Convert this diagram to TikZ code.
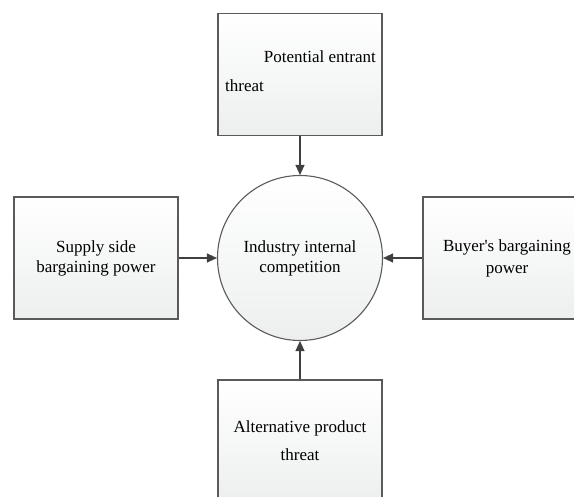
\documentclass[tikz,border=0pt]{standalone}
\usepackage{fontspec}
\setmainfont{Liberation Serif}
\usetikzlibrary{arrows.meta}
\definecolor{edge}{HTML}{5A5A5A}
\definecolor{arr}{HTML}{404040}
\definecolor{fillb}{HTML}{EDEFEF}
\begin{document}
\begin{tikzpicture}[x=1pt,y=-1pt,
  box/.style={draw=edge,line width=1.1pt,top color=white,bottom color=fillb,
    minimum width=164pt,minimum height=122pt,inner sep=0pt,align=center,
    font=\fontsize{17}{20}\selectfont},
  txt/.style={inner sep=0pt,font=\fontsize{17}{20}\selectfont},
  conn/.style={arr,line width=1.1pt,-{Triangle[length=10pt,width=9pt]}}]
\useasboundingbox (0,0) rectangle (574,497);
\node[box] (top) at (300,74.5) {};
\node[txt,anchor=base east] (t1) at (376,63) {Potential entrant};
\node[txt,anchor=base west] (t2) at (225,92) {threat};
\node[box] (left) at (96,258) {Supply side\\bargaining power};
\node[box,minimum width=168pt] (right) at (507,258) {Buyer\textquotesingle s bargaining\\[2pt]power};
\node[box] (bot) at (300,441) {Alternative product\\[8pt]threat};
\node[draw=edge,line width=1.1pt,circle,top color=white,bottom color=fillb,
  minimum size=165pt,inner sep=0pt,align=center,
  font=\fontsize{17}{20}\selectfont] (c) at (300,258) {Industry internal\\competition};
\draw[conn] (top) -- (c);
\draw[conn] (bot) -- (c);
\draw[conn] (left) -- (c);
\draw[conn] (right) -- (c);
\end{tikzpicture}
\end{document}
